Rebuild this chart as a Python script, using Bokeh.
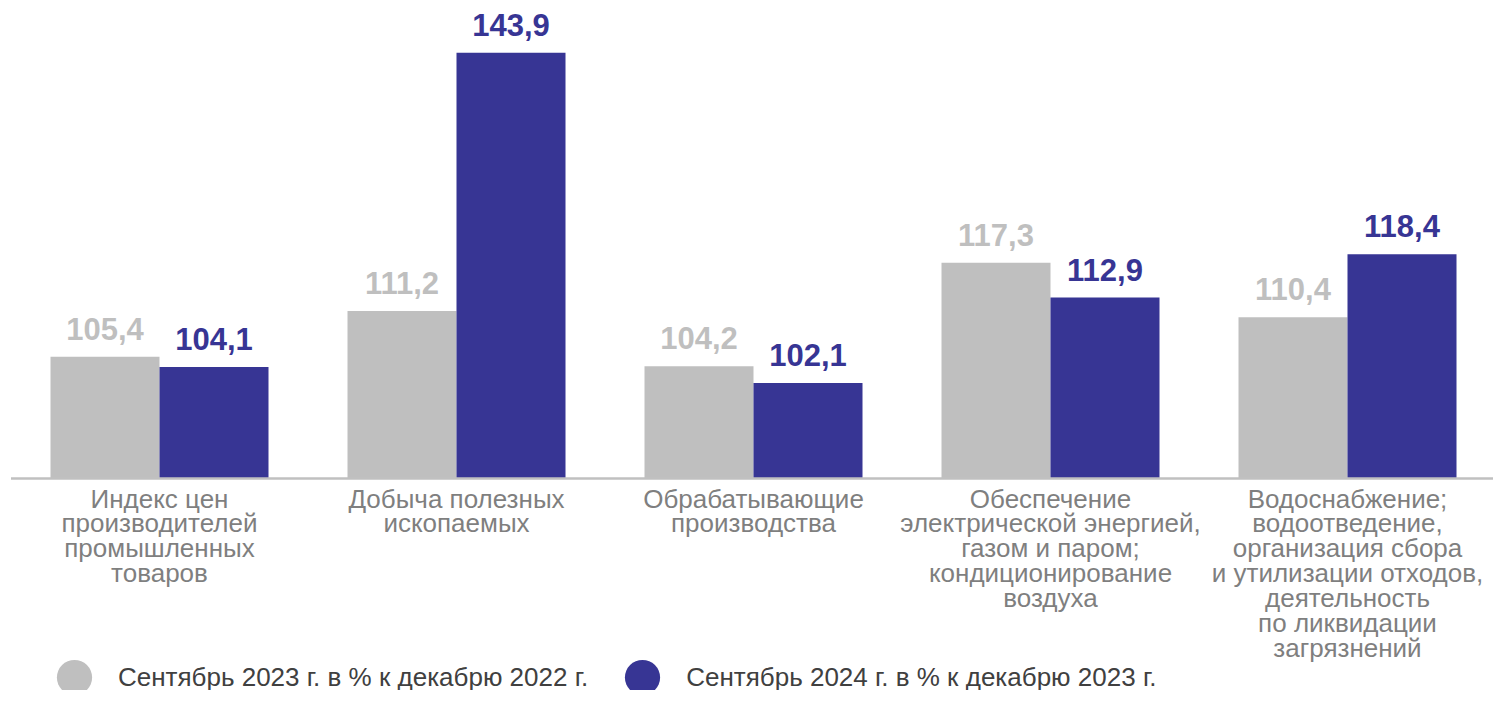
from bokeh.plotting import figure
from bokeh.models import ColumnDataSource, Range1d, Legend, LegendItem
from bokeh.transform import dodge
from bokeh.core.properties import value
from bokeh.embed import file_html
from bokeh.resources import INLINE

# ---- data ----
categories = [
    "Индекс цен\nпроизводителей\nпромышленных\nтоваров",
    "Добыча полезных\nископаемых",
    "Обрабатывающие\nпроизводства",
    "Обеспечение\nэлектрической энергией,\nгазом и паром;\nкондиционирование\nвоздуха",
    "Водоснабжение;\nводоотведение,\nорганизация сбора\nи утилизации отходов,\nдеятельность\nпо ликвидации\nзагрязнений",
]
sep2023 = [105.4, 111.2, 104.2, 117.3, 110.4]
sep2024 = [104.1, 143.9, 102.1, 112.9, 118.4]
series_names = ["Сентябрь 2023 г. в % к декабрю 2022 г.",
                "Сентябрь 2024 г. в % к декабрю 2023 г."]
base_value = 90.0

GREY = "#BFBFBF"
BLUE = "#373594"
FONT = "Liberation Sans"

W, H = 1493, 690
px_x = 297.0          # pixels per category
px_y = 7.9            # pixels per index point
base_px = 478         # baseline position from top
x0 = -159 / px_x
y_top = base_value + base_px / px_y
y_bot = base_value - (H - base_px) / px_y

idx = list(range(len(categories)))
fmt = lambda v: f"{v:.1f}".replace(".", ",")
src = ColumnDataSource(dict(
    idx=idx, cat=categories, a=sep2023, b=sep2024,
    la=[fmt(v) for v in sep2023], lb=[fmt(v) for v in sep2024],
    base=[base_value] * len(idx),
))

p = figure(width=W, height=H, output_backend="svg", toolbar_location=None,
           x_range=Range1d(x0, x0 + W / px_x), y_range=Range1d(y_bot, y_top),
           min_border=0, outline_line_color=None, background_fill_color="white",
           border_fill_color="white")
p.axis.visible = False
p.grid.visible = False

bw = 109 / px_x
off = bw / 2
p.vbar(x=dodge("idx", -off), top="a", bottom="base", width=bw, source=src,
       fill_color=GREY, line_color=None)
p.vbar(x=dodge("idx", off), top="b", bottom="base", width=bw, source=src,
       fill_color=BLUE, line_color=None)

# baseline
p.segment(x0=[-0.5], x1=[len(categories) - 0.5], y0=[base_value], y1=[base_value],
          line_color="#C0C0C0", line_width=2.3)

# value labels
p.text(x=dodge("idx", -off), y="a", text="la", source=src, text_align="center",
       text_baseline="alphabetic", y_offset=-28, text_color=GREY,
       text_font=value(FONT), text_font_style="bold", text_font_size="31px")
p.text(x=dodge("idx", off), y="b", text="lb", source=src, text_align="center",
       text_baseline="alphabetic", y_offset=-28, text_color=BLUE,
       text_font=value(FONT), text_font_style="bold", text_font_size="31px")

# category labels
p.text(x="idx", y="base", text="cat", source=src, text_align="center",
       text_baseline="top", y_offset=5, text_color="#7F7F7F",
       text_font=value(FONT), text_font_size="26px", text_line_height=0.83)

# legend
nan = float("nan")
da = p.scatter(x=[nan], y=[nan], marker="circle", fill_color=GREY, line_color=None)
db = p.scatter(x=[nan], y=[nan], marker="circle", fill_color=BLUE, line_color=None)
legend = Legend(items=[LegendItem(label=series_names[0], renderers=[da]),
                       LegendItem(label=series_names[1], renderers=[db])],
                orientation="horizontal", location=(30, -31),
                glyph_width=88, glyph_height=88, label_standoff=-3, spacing=10,
                padding=0, margin=0, border_line_color=None,
                background_fill_alpha=0,
                label_text_font=FONT, label_text_font_size="26px",
                label_text_color="#404040", label_text_baseline="middle")
p.add_layout(legend)

open("out.html", "w").write(file_html(p, INLINE))
